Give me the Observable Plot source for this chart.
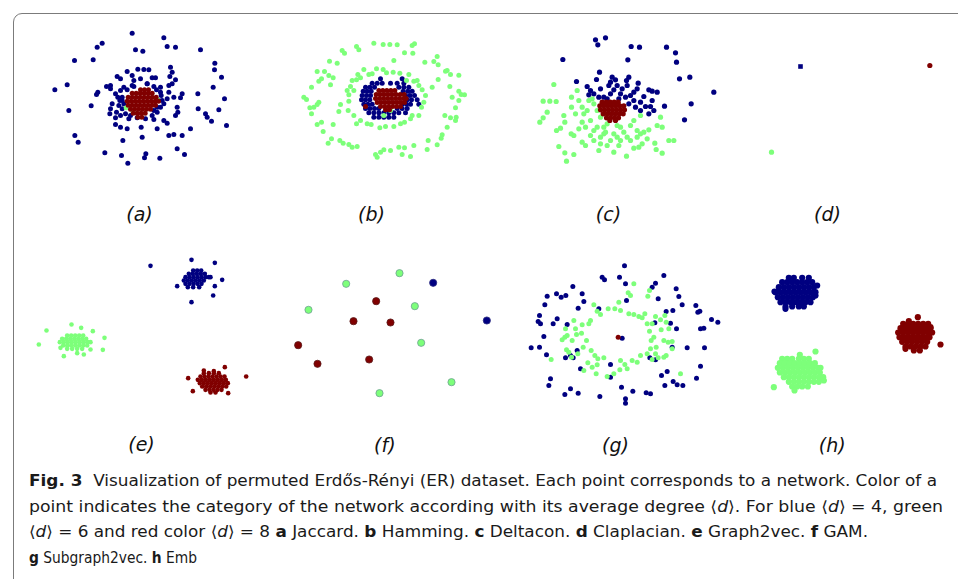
<!DOCTYPE html>
<html>
<head>
<meta charset="utf-8">
<script src="https://cdn.jsdelivr.net/npm/d3@7"></script>
<script src="https://cdn.jsdelivr.net/npm/@observablehq/plot@0.6"></script>
<style>
  html, body { margin: 0; padding: 0; background: #fff; }
  body { width: 958px; height: 579px; overflow: hidden; position: relative; }
  #frame { position: absolute; left: 13px; top: 13px; width: 980px; height: 620px;
           border: 1.5px solid #7b7b7b; border-radius: 9px; box-sizing: border-box; }
  .panel { position: absolute; }
  .panel svg { background: transparent !important; overflow: visible; }
  #caption { position: absolute; left: 29px; top: 469px;
             font-family: "Liberation Sans Narrow", "DejaVu Sans Condensed", "Open Sans", sans-serif;
             font-size: 15.5px; color: #1a1a1a; }
  #caption .line { height: 25.5px; line-height: 25.5px; white-space: nowrap; }
  #caption .line span { display: inline-block; transform-origin: 0 50%; }
</style>
</head>
<body>
<div id="frame"></div>
<div id="panels"></div>
<div id="caption"></div>
<script>
// ---------- DATA (panel-local units) ----------
const categories = ["⟨d⟩ = 4", "⟨d⟩ = 6", "⟨d⟩ = 8"];
const panelLabels = ["(a)", "(b)", "(c)", "(d)", "(e)", "(f)", "(g)", "(h)"];

const aBlue = [395,98, 490,112, 305,128, 290,140, 405,148, 427,152, 500,138, 525,140, 600,148, 222,180, 278,178, 643,188, 642,208, 663,230, 510,200, 515,215, 380,213, 412,206, 430,207, 445,208, 350,228, 360,235, 455,232, 465,232, 508,228, 525,238, 200,253, 163,268, 292,275, 288,282, 318,258, 330,255, 330,265, 400,240, 395,255, 440,250, 480,260, 505,255, 515,250, 545,280, 540,292, 520,290, 592,280, 638,260, 672,295, 205,330, 272,316, 335,310, 330,325, 355,315, 348,335, 328,340, 345,352, 360,345, 385,355, 410,352, 435,355, 460,357, 490,360, 470,385, 500,368, 530,320, 532,335, 525,345, 593,325, 615,340, 620,350, 633,362, 655,328, 678,375, 570,385, 545,405, 520,402, 505,405, 425,410, 422,380, 380,385, 360,380, 345,372, 223,405, 233,425, 367,420, 313,457, 363,465, 382,488, 436,460, 432,472, 478,473, 530,445, 552,462, 468,268, 475,300, 490,310, 500,295, 470,320, 460,330, 360,270, 370,260, 345,280, 395,225, 420,235, 505,275, 482,285, 365,290, 370,310, 365,325, 375,340, 390,345, 455,345, 470,335, 480,320, 485,300, 480,275, 460,258, 440,250, 400,258, 380,268, 365,300, 358,300, 352,290];
const aGreen = [398,334, 471,298, 377,322];
const aRed = [420,268, 432,268, 444,268, 395,278, 407,278, 419,278, 431,278, 443,278, 455,278, 383,290, 395,290, 407,290, 419,290, 431,290, 443,290, 455,290, 467,290, 380,302, 392,302, 404,302, 416,302, 428,302, 440,302, 452,302, 464,302, 474,302, 383,314, 395,314, 407,314, 419,314, 431,314, 443,314, 455,314, 465,314, 390,326, 402,326, 414,326, 426,326, 438,326, 450,326, 398,338, 410,338, 422,338, 434,338, 412,350, 424,350];

const bBlue = [390,235, 455,235, 365,248, 380,248, 395,248, 420,248, 440,248, 460,248, 345,260, 358,260, 372,260, 445,260, 460,260, 475,260, 338,272, 350,272, 362,272, 458,272, 472,272, 485,272, 335,285, 348,285, 360,285, 465,285, 478,285, 492,285, 333,298, 345,298, 358,298, 470,298, 483,298, 500,298, 340,311, 352,311, 365,311, 455,311, 468,311, 480,311, 505,311, 345,324, 358,324, 372,324, 385,324, 440,324, 455,324, 470,324, 355,337, 370,337, 385,337, 400,337, 415,337, 430,337, 445,337, 465,337, 370,350, 385,350, 400,350, 415,350, 430,350];
const bGreen = [370,128, 398,132, 418,132, 440,133, 318,138, 325,148, 275,150, 282,158, 485,135, 492,130, 462,157, 487,158, 430,180, 237,182, 260,188, 523,185, 550,183, 560,168, 563,193, 200,213, 222,213, 213,235, 205,242, 235,225, 248,232, 240,253, 183,260, 160,290, 168,297, 205,305, 190,320, 178,322, 183,340, 200,312, 590,210, 600,222, 585,212, 625,224, 563,237, 598,258, 545,260, 625,272, 642,283, 632,282, 605,290, 625,300, 615,322, 583,345, 600,352, 617,350, 615,360, 590,380, 575,403, 572,413, 560,433, 533,420, 530,447, 490,435, 480,468, 455,462, 462,442, 445,440, 420,450, 400,448, 390,455, 375,462, 380,470, 320,438, 305,440, 295,432, 268,420, 278,428, 243,415, 233,428, 218,393, 200,372, 213,365, 248,372, 270,312, 265,333, 340,207, 365,220, 378,205, 398,207, 408,217, 428,215, 448,218, 475,222, 490,242, 500,240, 305,240, 300,258, 318,238, 330,232, 290,270, 295,283, 295,302, 293,330, 310,345, 318,370, 330,360, 350,370, 362,372, 388,382, 405,378, 430,378, 450,370, 462,365, 480,355, 485,345, 505,345, 513,320, 520,305, 525,285, 515,268, 505,255, 355,222, 322,222, 400,345, 420,330, 468,240, 310,270];
const bRed = [385,270, 397,270, 409,270, 421,270, 433,270, 377,282, 389,282, 401,282, 413,282, 425,282, 437,282, 449,282, 461,282, 375,294, 387,294, 399,294, 411,294, 423,294, 435,294, 447,294, 459,294, 467,294, 380,306, 392,306, 404,306, 416,306, 428,306, 440,306, 452,306, 462,306, 390,318, 402,318, 414,318, 426,318, 438,318, 450,318, 405,328, 417,328, 345,318];

const cBlue = [285,118, 315,112, 292,133, 392,138, 417,140, 498,140, 525,157, 528,185, 382,178, 187,177, 297,215, 228,243, 288,237, 335,230, 345,238, 385,230, 378,240, 413,248, 537,235, 568,230, 640,275, 572,310, 552,358, 492,317, 260,258, 270,270, 300,265, 325,255, 350,255, 365,265, 410,265, 400,275, 430,288, 445,268, 455,272, 470,275, 455,300, 460,330, 445,340, 450,318, 420,330, 400,300, 385,310, 360,280, 330,280, 310,290, 280,280, 265,283, 295,290, 330,245, 340,268, 375,290, 390,285, 420,305, 435,318, 405,320, 380,255, 355,295, 320,295];
const cGreen = [160,252, 128,302, 148,302, 167,303, 140,335, 128,352, 118,365, 168,390, 180,383, 193,365, 190,345, 213,290, 213,320, 230,270, 235,300, 245,320, 250,340, 225,340, 245,365, 212,400, 220,405, 175,438, 193,457, 220,462, 198,482, 245,425, 255,435, 280,420, 300,430, 295,450, 320,435, 340,455, 355,435, 378,467, 400,443, 415,440, 425,430, 440,415, 463,428, 467,447, 485,458, 505,420, 520,420, 485,380, 470,375, 445,388, 420,400, 410,390, 390,420, 480,350, 420,345, 400,360, 360,380, 340,400, 310,400, 280,390, 270,360, 260,330, 265,300, 280,310, 300,350, 290,380, 320,370, 350,410, 370,395, 380,410, 255,380, 235,385, 270,405, 300,410, 330,420, 360,420, 310,380, 315,395, 275,295, 290,330, 350,375, 390,375, 410,410, 430,395];
const cRed = [305,305, 317,305, 329,305, 341,305, 353,305, 298,316, 310,316, 322,316, 334,316, 346,316, 358,316, 370,316, 300,328, 312,328, 324,328, 336,328, 348,328, 360,328, 372,328, 308,340, 320,340, 332,340, 344,340, 356,340, 368,340, 318,352, 330,352, 342,352, 354,352, 328,360, 345,360];

const dBlue = [240,198];
const dGreen = [153,455];
const dRed = [628,195];

const eBlue = [578,90, 590,90, 602,90, 565,100, 577,100, 589,100, 601,100, 613,100, 555,110, 567,110, 579,110, 591,110, 603,110, 615,110, 625,110, 550,120, 562,120, 574,120, 586,120, 598,120, 610,120, 555,130, 567,130, 579,130, 591,130, 603,130, 562,140, 578,140, 596,140, 450,76, 573,58, 643,67, 665,118, 530,137, 643,137, 638,165, 573,185, 630,110];
const eGreen = [200,285, 212,285, 224,285, 236,285, 248,285, 185,295, 197,295, 209,295, 221,295, 233,295, 245,295, 257,295, 178,305, 190,305, 202,305, 214,305, 226,305, 238,305, 250,305, 262,305, 270,305, 188,315, 200,315, 212,315, 224,315, 236,315, 248,315, 260,315, 200,325, 215,325, 230,325, 245,325, 138,270, 213,252, 242,262, 277,272, 312,292, 115,312, 307,328, 270,327, 180,322, 190,347, 230,338, 250,342];
const eRed = [610,398, 625,398, 640,398, 655,398, 600,408, 612,408, 624,408, 636,408, 648,408, 660,408, 672,408, 592,418, 604,418, 616,418, 628,418, 640,418, 652,418, 664,418, 676,418, 598,428, 610,428, 622,428, 634,428, 646,428, 658,428, 670,428, 682,428, 605,438, 617,438, 629,438, 641,438, 653,438, 665,438, 677,438, 615,448, 627,448, 639,448, 651,448, 663,448, 630,456, 645,456, 563,413, 577,452, 610,390, 640,392, 673,380, 737,408, 683,458];

const fBlue = [548,127, 709,240];
const fGreen = [447,98, 287,130, 493,197, 174,208, 512,307, 603,425, 387,458];
const fRed = [377,182, 309,242, 420,246, 143,314, 201,370, 356,357];

const gBlue = [372,76, 305,110, 312,118, 357,110, 375,130, 490,105, 465,128, 455,140, 527,145, 535,168, 545,193, 473,175, 497,213, 586,195, 592,215, 598,212, 633,237, 652,245, 600,265, 610,263, 217,138, 245,160, 250,183, 140,167, 168,160, 182,170, 196,165, 133,193, 233,203, 117,225, 113,243, 120,250, 158,250, 170,235, 200,252, 130,288, 92,322, 117,320, 138,343, 195,352, 210,345, 218,352, 240,385, 330,372, 330,410, 150,415, 145,435, 193,462, 210,445, 233,458, 298,468, 363,440, 375,475, 375,488, 397,452, 437,457, 450,460, 493,435, 518,423, 530,433, 547,435, 483,405, 500,393, 588,413, 600,377, 560,322, 612,322, 515,320, 448,352, 465,358, 517,210, 510,248, 528,265, 463,247, 378,180, 365,293, 295,205, 230,330];
const gGreen = [400,130, 447,150, 442,167, 383,157, 390,165, 355,185, 343,205, 360,210, 385,220, 400,222, 415,228, 433,220, 425,232, 465,228, 480,238, 493,225, 497,245, 505,265, 482,268, 455,250, 440,250, 447,272, 460,290, 452,300, 467,320, 450,325, 465,340, 455,357, 473,352, 490,300, 503,305, 515,303, 515,325, 497,345, 490,350, 540,400, 280,193, 290,212, 300,222, 323,205, 270,240, 265,250, 245,253, 220,240, 195,265, 200,285, 185,298, 193,290, 228,282, 243,278, 258,300, 248,320, 198,328, 205,335, 213,350, 232,340, 272,330, 283,345, 292,355, 310,352, 290,373, 275,380, 262,367, 250,390, 287,400, 320,408, 340,400, 358,388, 360,360, 373,372, 380,385, 395,360, 410,365, 420,345, 440,340, 152,357, 225,265, 215,300];
const gRed = [353,290];

const hBlue = [205,112, 220,112, 245,112, 265,112, 185,125, 200,125, 215,125, 230,125, 245,125, 260,125, 275,125, 175,140, 190,140, 205,140, 220,140, 235,140, 250,140, 265,140, 280,140, 165,155, 180,155, 195,155, 210,155, 225,155, 240,155, 255,155, 270,155, 285,155, 172,170, 187,170, 202,170, 217,170, 232,170, 247,170, 262,170, 277,170, 180,185, 195,185, 210,185, 225,185, 240,185, 255,185, 270,185, 195,198, 215,198, 235,198, 250,198, 162,153, 195,205, 290,135, 285,165];
const hGreen = [185,355, 200,355, 215,355, 235,355, 250,355, 265,355, 178,368, 193,368, 208,368, 223,368, 238,368, 253,368, 268,368, 283,368, 172,382, 187,382, 202,382, 217,382, 232,382, 247,382, 262,382, 277,382, 292,382, 300,382, 178,396, 193,396, 208,396, 223,396, 238,396, 253,396, 268,396, 283,396, 298,396, 190,410, 205,410, 220,410, 235,410, 250,410, 265,410, 280,410, 295,410, 308,410, 205,424, 220,424, 235,424, 250,424, 265,424, 280,424, 295,424, 215,438, 230,438, 245,438, 262,438, 160,440, 285,333, 238,343, 222,450, 310,420];
const hRed = [548,250, 563,250, 578,250, 593,250, 608,250, 623,250, 540,263, 555,263, 570,263, 585,263, 600,263, 615,263, 630,263, 533,276, 548,276, 563,276, 578,276, 593,276, 608,276, 623,276, 635,276, 537,290, 552,290, 567,290, 582,290, 597,290, 612,290, 627,290, 545,304, 560,304, 575,304, 590,304, 605,304, 620,304, 555,318, 570,318, 585,318, 600,318, 615,318, 580,330, 598,330, 592,230, 565,242, 660,312, 555,325, 630,260];

const captionLines = [
  '<b>Fig. 3</b>&nbsp; Visualization of permuted Erdős-Rényi (ER) dataset. Each point corresponds to a network. Color of a',
  'point indicates the category of the network according with its average degree ⟨<i>d</i>⟩. For blue ⟨<i>d</i>⟩ = 4, green',
  '⟨<i>d</i>⟩ = 6 and red color ⟨<i>d</i>⟩ = 8 <b>a</b> Jaccard. <b>b</b> Hamming. <b>c</b> Deltacon. <b>d</b> Claplacian. <b>e</b> Graph2vec. <b>f</b> GAM.',
  '<b>g</b> Subgraph2vec. <b>h</b> Emb'
];

// ---------- LAYOUT / STYLE ----------
const colors = ["#000080", "#7dff7a", "#800000"];
const layout = [
  {left: 0,   top: 0,   w: 250, h: 240, r: 2.5, lx: 417, ly: 642, data: [aBlue, aGreen, aRed]},
  {left: 250, top: 0,   w: 250, h: 240, r: 2.5, lx: 363, ly: 642, data: [bBlue, bGreen, bRed]},
  {left: 500, top: 0,   w: 250, h: 240, r: 2.6, lx: 324, ly: 642, data: [cBlue, cGreen, cRed]},
  {left: 720, top: 0,   w: 238, h: 240, r: 2.6, lx: 321, ly: 642, data: [dBlue, dGreen, dRed], blueSquare: true},
  {left: 0,   top: 240, w: 250, h: 220, r: 2.3, lx: 423, ly: 614, data: [eBlue, eGreen, eRed]},
  {left: 250, top: 240, w: 250, h: 220, r: 3.6, lx: 403, ly: 615, data: [fBlue, fGreen, fRed], outline: true},
  {left: 500, top: 240, w: 250, h: 220, r: 2.5, lx: 345, ly: 617, data: [gBlue, gGreen, gRed]},
  {left: 720, top: 240, w: 238, h: 220, r: 3.1, lx: 335, ly: 615, data: [hBlue, hGreen, hRed]}
];

function toPoints(flat, cat) {
  const out = [];
  for (let i = 0; i < flat.length; i += 2) out.push({x: flat[i], y: flat[i + 1], cat});
  return out;
}

const panelsDiv = document.getElementById("panels");
layout.forEach((p, i) => {
  const marks = p.data.map((flat, k) => Plot.dot(toPoints(flat, categories[k]), {
    x: "x", y: "y", r: p.r,
    fill: colors[k],
    symbol: (p.blueSquare && k === 0) ? "square" : "circle",
    stroke: p.outline ? (k === 1 ? "#6f9f93" : k === 2 ? "#5a1a1a" : "#2a2a80") : "none",
    strokeWidth: p.outline ? 0.8 : 0
  }));
  marks.push(Plot.text([{x: p.lx, y: p.ly, t: panelLabels[i]}], {
    x: "x", y: "y", text: "t",
    fontFamily: "DejaVu Sans", fontStyle: "oblique", fontSize: 19, fill: "#111",
    textAnchor: "middle", lineAnchor: "middle"
  }));
  const svg = Plot.plot({
    width: p.w, height: p.h, margin: 0,
    x: {domain: [0, 3 * p.w], range: [0, p.w], axis: null},
    y: {domain: [0, 3 * p.h], range: [0, p.h], axis: null},
    style: {background: "transparent", overflow: "visible"},
    marks
  });
  const div = document.createElement("div");
  div.className = "panel";
  div.style.left = p.left + "px";
  div.style.top = p.top + "px";
  div.appendChild(svg);
  panelsDiv.appendChild(div);
});

// caption, each line fitted to the reference line width
const lineWidths = [908, 914, 839, 168];
const cap = document.getElementById("caption");
captionLines.forEach((html, i) => {
  const line = document.createElement("div");
  line.className = "line";
  const span = document.createElement("span");
  span.innerHTML = html;
  line.appendChild(span);
  cap.appendChild(line);
  const w = span.getBoundingClientRect().width;
  if (w > 0) span.style.transform = `scaleX(${lineWidths[i] / w})`;
});
</script>
</body>
</html>
